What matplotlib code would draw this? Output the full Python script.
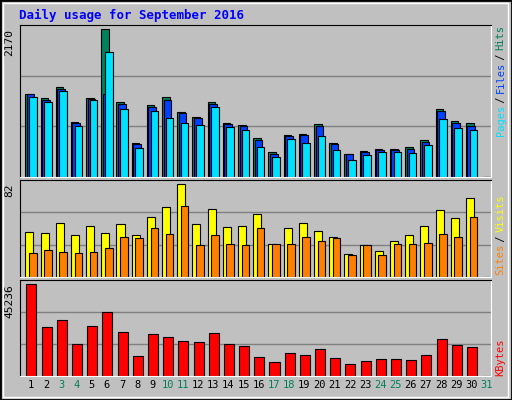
import numpy as np, matplotlib
matplotlib.use("Agg")
import matplotlib.pyplot as plt
from matplotlib.patches import Rectangle

days = list(range(1, 32))
hits = [1227, 1168, 1316, 815, 1154, 2170, 1109, 501, 1065, 1183, 962, 889, 1109, 800, 771,
        579, 373, 623, 638, 785, 506, 344, 388, 417, 417, 437, 550, 1006, 830, 800, 0]
files = [1213, 1139, 1291, 795, 1144, 1213, 1080, 491, 1031, 1139, 943, 874, 1080, 785, 756,
         550, 344, 604, 619, 756, 486, 344, 368, 393, 393, 407, 515, 972, 800, 756, 0]
pages = [1178, 1095, 1271, 756, 1139, 1831, 1006, 432, 977, 874, 800, 771, 1036, 741, 697,
         447, 299, 565, 506, 609, 403, 255, 329, 373, 373, 358, 476, 859, 727, 697, 0]
visits = [40, 39, 48, 37, 45, 39, 47, 37, 53, 62, 82, 47, 60, 44, 45,
          56, 29, 43, 48, 41, 35, 20, 28, 23, 32, 37, 45, 59, 52, 70, 0]
sites = [21, 24, 22, 21, 22, 26, 35, 34, 43, 38, 63, 28, 37, 29, 28,
         43, 29, 29, 35, 32, 34, 19, 28, 19, 29, 29, 30, 38, 35, 53, 0]
kbytes = [45236, 23862, 27341, 15907, 24358, 31318, 21873, 9942, 20879, 19387, 17399, 16902,
          21376, 15907, 14913, 9445, 6960, 11433, 10439, 13422, 8948, 5965, 7457, 8451, 8451,
          7954, 10439, 18393, 15410, 14416, 0]
weekends = [3, 4, 10, 11, 17, 18, 24, 25, 31]

BG = "#c0c0c0"
MONO = "DejaVu Sans Mono"
x = np.array(days, dtype=float)

fig = plt.figure(figsize=(5.12, 4.0), dpi=100, facecolor=BG)
fig.patches.append(Rectangle((0, 0), 1, 1, transform=fig.transFigure, fill=False,
                             edgecolor="black", linewidth=2))
fig.patches.append(Rectangle((0.006, 0.008), 0.986, 0.985, transform=fig.transFigure,
                             fill=False, edgecolor="white", linewidth=1))
fig.text(19/512, 1-15/400, "Daily usage for September 2016", color="#0000ff",
         fontsize=9, fontweight="bold", family=MONO, va="center")

def panel(rect, ymax, label):
    ax = fig.add_axes(rect, facecolor=BG)
    ax.set_xlim(0.28, 31.28)
    ax.set_ylim(0, ymax)
    for g in (ymax/3, 2*ymax/3):
        ax.axhline(g, color="#808080", linewidth=1, zorder=0)
    ax.set_xticks([]); ax.set_yticks([])
    for s in ("top", "left"):
        ax.spines[s].set_color("black")
    for s in ("bottom", "right"):
        ax.spines[s].set_color("white")
    hpx = rect[3] * 400
    ax.text(-0.012, 1 - 4/hpx, label, transform=ax.transAxes, rotation=90,
            ha="right", va="top", fontsize=8, family=MONO)
    return ax

top = panel([20/512, 1-177/400, 471/512, 152/400], 2234, "2170")
top.bar(x-0.37, hits, 0.5, align="edge", color="#00805c", edgecolor="black", lw=0.8)
top.bar(x-0.27, files, 0.5, align="edge", color="#0040ff", edgecolor="black", lw=0.8)
top.bar(x-0.13, pages, 0.5, align="edge", color="#00e0ff", edgecolor="black", lw=0.8)

mid = panel([20/512, 1-277/400, 471/512, 97/400], 85.6, "82")
mid.bar(x-0.37, visits, 0.53, align="edge", color="#ffff00", edgecolor="black", lw=0.8)
mid.bar(x-0.13, sites, 0.5, align="edge", color="#ff8000", edgecolor="black", lw=0.8)

bot = panel([20/512, 1-376/400, 471/512, 96/400], 47224, "45236")
bot.bar(x-0.3, kbytes, 0.66, align="edge", color="#ff0000", edgecolor="black", lw=0.8)

for d in days:
    bot.text(d, -0.04, str(d), transform=bot.get_xaxis_transform(), ha="center", va="top",
             fontsize=7.5, family=MONO, color="#00805c" if d in weekends else "black")

def right_label(ax, parts, y0):
    hpx = ax.get_position().height * 400
    y = y0
    for txt, col in parts:
        ax.text(1.01, y, txt, transform=ax.transAxes, rotation=90, ha="left",
                va="bottom", fontsize=7.5, family=MONO, color=col)
        y += len(txt) * 5.4 / hpx

right_label(top, [("Pages", "#00e0ff"), (" / ", "black"), ("Files", "#0040ff"),
                  (" / ", "black"), ("Hits", "#00805c")], 0.27)
right_label(mid, [("Sites", "#ff8000"), (" / ", "black"), ("Visits", "#ffff00")], 0.02)
right_label(bot, [("KBytes", "#ff0000")], 0.0)

plt.savefig("out.png", dpi=100, facecolor=fig.get_facecolor())
